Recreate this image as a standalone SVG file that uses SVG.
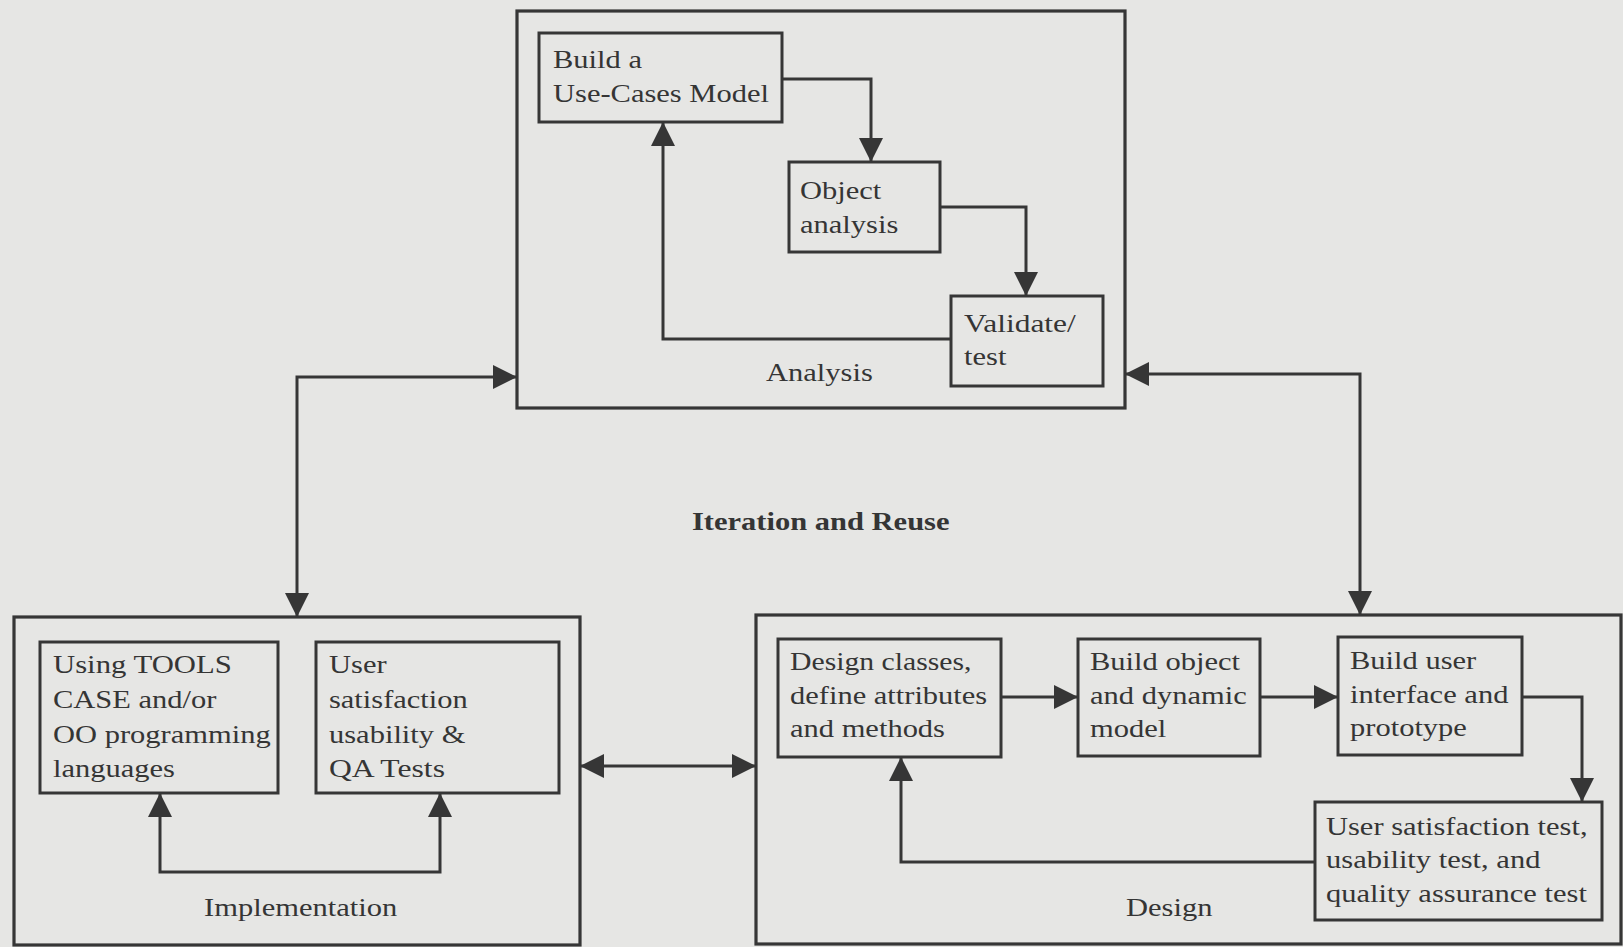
<svg xmlns="http://www.w3.org/2000/svg" width="1623" height="947" viewBox="0 0 1623 947">
  <style>
    .box { fill: none; stroke: #363636; stroke-width: 3; }
    .frame { fill: none; stroke: #363636; stroke-width: 3.2; }
    .link { fill: none; stroke: #363636; stroke-width: 3; }
    text { font-family: "Liberation Serif", "Times New Roman", serif; font-size: 26px; fill: #353535; }
    .title { font-weight: bold; }
  </style>
  <defs>
    <marker id="head" markerUnits="userSpaceOnUse" markerWidth="26" markerHeight="26" refX="24" refY="12" orient="auto-start-reverse">
      <path d="M0,0 L24,12 L0,24 Z" fill="#363636"/>
    </marker>
  </defs>

  <rect width="1623" height="947" fill="#e6e6e4"/>

  <!-- Analysis phase -->
  <g id="analysis">
    <rect class="frame" x="517" y="11" width="608" height="397"/>
    <text x="766" y="381" textLength="106.8" lengthAdjust="spacingAndGlyphs">Analysis</text>
  </g>
  <g id="use-cases">
    <rect class="box" x="539" y="33" width="243" height="89"/>
    <text x="553" y="68" textLength="89" lengthAdjust="spacingAndGlyphs">Build a</text>
    <text x="553" y="102" textLength="216" lengthAdjust="spacingAndGlyphs">Use-Cases Model</text>
  </g>
  <g id="object-analysis">
    <rect class="box" x="789" y="162" width="151" height="90"/>
    <text x="800" y="199" textLength="81.3" lengthAdjust="spacingAndGlyphs">Object</text>
    <text x="800" y="233" textLength="98.3" lengthAdjust="spacingAndGlyphs">analysis</text>
  </g>
  <g id="validate">
    <rect class="box" x="951" y="296" width="152" height="90"/>
    <text x="964" y="332" textLength="111.8" lengthAdjust="spacingAndGlyphs">Validate/</text>
    <text x="964" y="365" textLength="42.4" lengthAdjust="spacingAndGlyphs">test</text>
  </g>

  <!-- Implementation phase -->
  <g id="implementation">
    <rect class="frame" x="14" y="617" width="566" height="328"/>
    <text x="204" y="916" textLength="193.2" lengthAdjust="spacingAndGlyphs">Implementation</text>
  </g>
  <g id="tools">
    <rect class="box" x="40" y="642" width="238" height="151"/>
    <text x="53" y="673" textLength="178.8" lengthAdjust="spacingAndGlyphs">Using TOOLS</text>
    <text x="53" y="708" textLength="163.5" lengthAdjust="spacingAndGlyphs">CASE and/or</text>
    <text x="53" y="743" textLength="217.7" lengthAdjust="spacingAndGlyphs">OO programming</text>
    <text x="53" y="777" textLength="122" lengthAdjust="spacingAndGlyphs">languages</text>
  </g>
  <g id="qa-tests">
    <rect class="box" x="316" y="642" width="243" height="151"/>
    <text x="329" y="673" textLength="57.6" lengthAdjust="spacingAndGlyphs">User</text>
    <text x="329" y="708" textLength="138.7" lengthAdjust="spacingAndGlyphs">satisfaction</text>
    <text x="329" y="743" textLength="136.4" lengthAdjust="spacingAndGlyphs">usability &amp;</text>
    <text x="329" y="777" textLength="116" lengthAdjust="spacingAndGlyphs">QA Tests</text>
  </g>

  <!-- Design phase -->
  <g id="design">
    <rect class="frame" x="756" y="615" width="865" height="329"/>
    <text x="1126" y="916" textLength="86.4" lengthAdjust="spacingAndGlyphs">Design</text>
  </g>
  <g id="design-classes">
    <rect class="box" x="778" y="639" width="223" height="118"/>
    <text x="790" y="670" textLength="181.5" lengthAdjust="spacingAndGlyphs">Design classes,</text>
    <text x="790" y="704" textLength="197.2" lengthAdjust="spacingAndGlyphs">define attributes</text>
    <text x="790" y="737" textLength="155" lengthAdjust="spacingAndGlyphs">and methods</text>
  </g>
  <g id="object-model">
    <rect class="box" x="1078" y="639" width="182" height="117"/>
    <text x="1090" y="670" textLength="150" lengthAdjust="spacingAndGlyphs">Build object</text>
    <text x="1090" y="704" textLength="156.7" lengthAdjust="spacingAndGlyphs">and dynamic</text>
    <text x="1090" y="737" textLength="76.3" lengthAdjust="spacingAndGlyphs">model</text>
  </g>
  <g id="user-interface">
    <rect class="box" x="1338" y="637" width="184" height="118"/>
    <text x="1350" y="669" textLength="126.2" lengthAdjust="spacingAndGlyphs">Build user</text>
    <text x="1350" y="703" textLength="158.4" lengthAdjust="spacingAndGlyphs">interface and</text>
    <text x="1350" y="736" textLength="116.9" lengthAdjust="spacingAndGlyphs">prototype</text>
  </g>
  <g id="design-tests">
    <rect class="box" x="1315" y="802" width="287" height="118"/>
    <text x="1326" y="835" textLength="261.5" lengthAdjust="spacingAndGlyphs">User satisfaction test,</text>
    <text x="1326" y="868" textLength="214.4" lengthAdjust="spacingAndGlyphs">usability test, and</text>
    <text x="1326" y="902" textLength="260.9" lengthAdjust="spacingAndGlyphs">quality assurance test</text>
  </g>

  <!-- Centre caption -->
  <g id="iteration">
    <text class="title" x="692" y="530" textLength="257.5" lengthAdjust="spacingAndGlyphs">Iteration and Reuse</text>
  </g>

  <!-- Connectors -->
  <g id="connectors">
    <!-- analysis loop -->
    <path class="link" d="M782,79 H871 V162" marker-end="url(#head)"/>
    <path class="link" d="M940,207 H1026 V296" marker-end="url(#head)"/>
    <path class="link" d="M951,339 H663 V122" marker-end="url(#head)"/>
    <!-- implementation loop -->
    <path class="link" d="M160,793 V872 H440 V793" marker-start="url(#head)" marker-end="url(#head)"/>
    <!-- design flow -->
    <path class="link" d="M1001,697 H1078" marker-end="url(#head)"/>
    <path class="link" d="M1260,697 H1338" marker-end="url(#head)"/>
    <path class="link" d="M1522,697 H1582 V802" marker-end="url(#head)"/>
    <path class="link" d="M1315,862 H901 V757" marker-end="url(#head)"/>
    <!-- phase links -->
    <path class="link" d="M517,377 H297 V617" marker-start="url(#head)" marker-end="url(#head)"/>
    <path class="link" d="M1125,374 H1360 V615" marker-start="url(#head)" marker-end="url(#head)"/>
    <path class="link" d="M580,766 H756" marker-start="url(#head)" marker-end="url(#head)"/>
  </g>
</svg>
